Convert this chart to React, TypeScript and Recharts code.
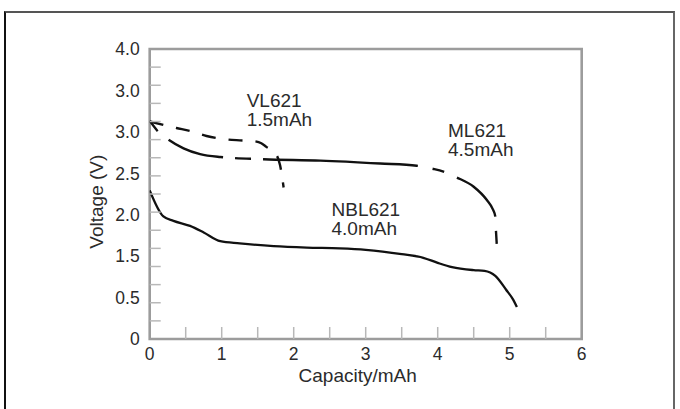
import React from 'react';
import { LineChart, Line, XAxis, YAxis, ReferenceArea, ReferenceDot, Label } from 'recharts';

// ---- data ----
const nblCapacity = [0, 0.19, 0.33, 0.56, 0.75, 0.98, 1.25, 1.72, 2.18, 2.64, 3.0, 3.5, 3.8, 4.0, 4.2, 4.5, 4.65, 4.8, 4.95, 5.05, 5.1];
const nblVoltage = [2.05, 1.69, 1.63, 1.56, 1.47, 1.35, 1.32, 1.28, 1.26, 1.25, 1.23, 1.17, 1.12, 1.05, 0.99, 0.95, 0.94, 0.87, 0.68, 0.54, 0.44];

const mlCapacity = [0, 0.1, 0.26, 0.47, 0.7, 0.98, 1.58, 2.37, 3.2, 3.71, 3.92, 4.08, 4.26, 4.5, 4.68, 4.77, 4.8, 4.81, 4.82];
const mlVoltage = [3.01, 2.88, 2.75, 2.63, 2.55, 2.51, 2.48, 2.46, 2.42, 2.39, 2.35, 2.31, 2.23, 2.1, 1.92, 1.78, 1.69, 1.48, 1.31];

const vlCapacity = [0, 0.37, 0.56, 0.79, 1.09, 1.25, 1.44, 1.55, 1.62, 1.76, 1.81, 1.86];
const vlVoltage = [3.0, 2.91, 2.87, 2.8, 2.75, 2.74, 2.73, 2.7, 2.65, 2.54, 2.4, 2.09];

const xLabelTicks = [0, 1, 2, 3, 4, 5, 6];
const xMarkTicks = [0.5, 1, 1.5, 2, 2.5, 3, 3.5, 4, 4.5, 5, 5.5];
const yMarkTicks = [0.25, 0.5, 0.75, 1, 1.25, 1.5, 1.75, 2, 2.25, 2.5, 2.75, 3, 3.25, 3.5, 3.75];
// tick labels as printed, bottom to top (evenly spaced along the axis)
const yLabels = ['0', '0.5', '1.5', '2.0', '2.5', '3.0', '3.0', '4.0'];

const annotations = [
  { name: 'VL621', cap: '1.5mAh', x: 1.347, y: 3.196 },
  { name: 'ML621', cap: '4.5mAh', x: 4.143, y: 2.782 },
  { name: 'NBL621', cap: '4.0mAh', x: 2.525, y: 1.69 },
];

const zip = (xs: number[], ys: number[]) => xs.map((x, i) => ({ x, v: ys[i] }));
const nblData = zip(nblCapacity, nblVoltage);
const mlData = zip(mlCapacity, mlVoltage);
const vlData = zip(vlCapacity, vlVoltage);

const Y_MAX = 4;
const yLabelPositions = yLabels.map((_, k) => (k * Y_MAX) / (yLabels.length - 1));
const yTicks = Array.from(new Set([0, ...yMarkTicks, ...yLabelPositions, Y_MAX])).sort((a, b) => a - b);
const xTicks = Array.from(new Set([...xLabelTicks, ...xMarkTicks])).sort((a, b) => a - b);

const FONT = '"Liberation Sans", Arial, Helvetica, sans-serif';
const TEXT = '#2b2b2b';
const near = (a: number, b: number) => Math.abs(a - b) < 1e-6;

const YTick = (props: any) => {
  const { x, y, payload } = props;
  const v = payload.value;
  const isMark = yMarkTicks.some((t) => near(t, v));
  const idx = yLabelPositions.findIndex((t) => near(t, v));
  return (
    <g>
      {isMark && <line x1={x} x2={x + 11} y1={y} y2={y} stroke="#b8b8b8" strokeWidth={1.5} />}
      {idx >= 0 && (
        <text x={x - 10} y={y} dy="0.36em" textAnchor="end" fontFamily={FONT} fontSize={17.5} fill={TEXT}>
          {yLabels[idx]}
        </text>
      )}
    </g>
  );
};

const XTick = (props: any) => {
  const { x, y, payload } = props;
  const v = payload.value;
  const isMark = xMarkTicks.some((t) => near(t, v));
  const isLabel = xLabelTicks.some((t) => near(t, v));
  return (
    <g>
      {isMark && <line x1={x} x2={x} y1={y} y2={y - 12} stroke="#b8b8b8" strokeWidth={1.5} />}
      {isLabel && (
        <text x={x} y={y + 20.5} textAnchor="middle" fontFamily={FONT} fontSize={17.5} fill={TEXT}>
          {v}
        </text>
      )}
    </g>
  );
};

const XTitle = (props: any) => {
  const vb = props.viewBox || { x: 149.7, y: 339, width: 432, height: 70 };
  return (
    <text x={vb.x + vb.width / 2 - 8} y={vb.y + 42.7} textAnchor="middle" fontFamily={FONT} fontSize={19} fill={TEXT}>
      Capacity/mAh
    </text>
  );
};

const YTitle = (props: any) => {
  const vb = props.viewBox || { x: 0, y: 49, width: 149.7, height: 290 };
  const cx = 103;
  const cy = vb.y + vb.height / 2 + 7.7;
  return (
    <text x={cx} y={cy} transform={`rotate(-90, ${cx}, ${cy})`} textAnchor="middle" fontFamily={FONT} fontSize={19} fill={TEXT}>
      Voltage (V)
    </text>
  );
};

const annotationContent = (a: { name: string; cap: string }) => (props: any) => {
  const vb = props.viewBox || { x: 0, y: 0 };
  return (
    <g>
      <text x={vb.x} y={vb.y} fontFamily={FONT} fontSize={19} fill={TEXT}>
        {a.name}
      </text>
      <text x={vb.x} y={vb.y + 18.7} fontFamily={FONT} fontSize={19} fill={TEXT}>
        {a.cap}
      </text>
    </g>
  );
};

export default function App() {
  return (
    <>
      <style>{`html,body{overflow:hidden;}`}</style>
      <div
        style={{
          position: 'absolute',
          left: 4,
          top: 11,
          width: 667,
          height: 396,
          borderTop: '2px solid #555',
          borderLeft: '2px solid #111',
          borderRight: '2px solid #666',
          boxSizing: 'content-box',
        }}
      />
      <div style={{ position: 'absolute', left: 0, top: 0 }}>
        <LineChart width={680} height={409} margin={{ top: 49, right: 98.3, bottom: 0, left: 0 }}>
          <XAxis
            dataKey="x"
            type="number"
            domain={[0, 6]}
            ticks={xTicks}
            interval={0}
            tick={<XTick />}
            tickSize={0}
            tickMargin={0}
            tickLine={false}
            axisLine={false}
            height={70}
            allowDataOverflow
          >
            <Label content={<XTitle />} />
          </XAxis>
          <YAxis
            dataKey="v"
            type="number"
            domain={[0, Y_MAX]}
            ticks={yTicks}
            interval={0}
            tick={<YTick />}
            tickSize={0}
            tickMargin={0}
            tickLine={false}
            axisLine={false}
            width={149.7}
            allowDataOverflow
          >
            <Label content={<YTitle />} />
          </YAxis>
          <ReferenceArea x1={0} x2={6} y1={0} y2={Y_MAX} fill="none" fillOpacity={0} stroke="#9c9c9c" strokeWidth={2.6} />
          <Line
            data={nblData}
            dataKey="v"
            type="monotone"
            stroke="#111"
            strokeWidth={2.3}
            dot={false}
            activeDot={false}
            isAnimationActive={false}
          />
          <Line
            data={mlData}
            dataKey="v"
            type="monotone"
            stroke="#111"
            strokeWidth={2.4}
            strokeDasharray="13 14 58 12 16 12 155 15 12 14 57 14 13 100"
            dot={false}
            activeDot={false}
            isAnimationActive={false}
          />
          <Line
            data={vlData}
            dataKey="v"
            type="monotone"
            stroke="#111"
            strokeWidth={2.4}
            strokeDasharray="14 13"
            dot={false}
            activeDot={false}
            isAnimationActive={false}
          />
          {annotations.map((a) => (
            <ReferenceDot key={a.name} x={a.x} y={a.y} r={0} fill="none" stroke="none" label={{ content: annotationContent(a) }} />
          ))}
        </LineChart>
      </div>
    </>
  );
}
